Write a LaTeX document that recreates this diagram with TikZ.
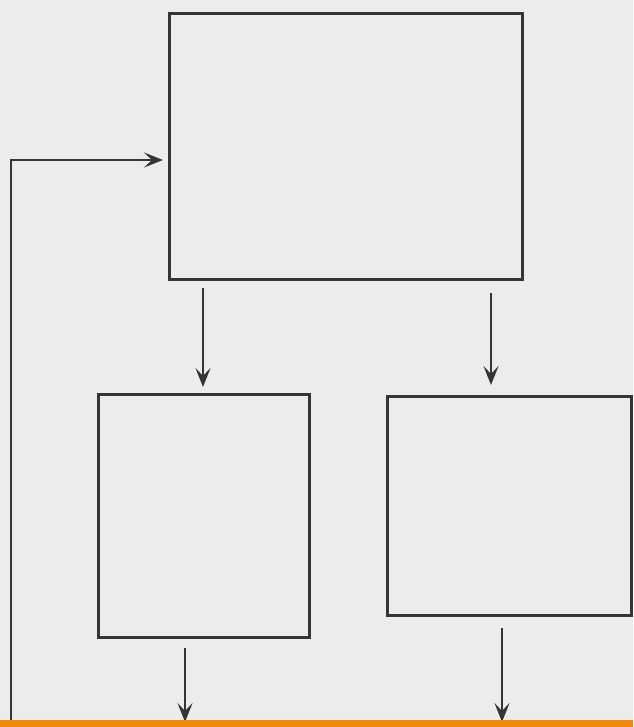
\documentclass[tikz,border=0pt]{standalone}
\usetikzlibrary{arrows.meta}
\definecolor{paper}{HTML}{ECECEC}
\definecolor{ink}{HTML}{353535}
\definecolor{bar}{HTML}{F08A0C}
\tikzset{
  box/.style={draw=ink, line width=3pt, rectangle, inner sep=0pt, anchor=north west},
  flow/.style={draw=ink, line width=2.6pt, -{Stealth[length=19pt,width=15pt,inset=8pt]}},
}
\begin{document}
\begin{tikzpicture}[x=1pt,y=-1pt]
\fill[paper] (0,0) rectangle (633,727);
\useasboundingbox (0,0) rectangle (633,727);
\node[box, minimum width=353pt, minimum height=266pt] (top) at (168,12) {};
\node[box, minimum width=211pt, minimum height=243pt] (left) at (97,393) {};
\node[box, minimum width=244pt, minimum height=219pt] (right) at (386,395) {};
\coordinate (loop) at (11,720);
\coordinate (outL) at (185,722);
\coordinate (outR) at (502,722);
\draw[flow] (loop) |- ([xshift=-5pt,yshift=-(160-12)*1pt]top.north west) ;
\draw[flow] (top.south -| 203,0) ++(0,7) -- (203,387);
\draw[flow] (top.south -| 491,0) ++(0,12) -- (491,385);
\draw[flow] (left.south -| 185,0) ++(0,9) -- (outL);
\draw[flow] (right.south -| 502,0) ++(0,11) -- (outR);
\fill[bar] (0,720) rectangle (633,727);
\end{tikzpicture}
\end{document}
